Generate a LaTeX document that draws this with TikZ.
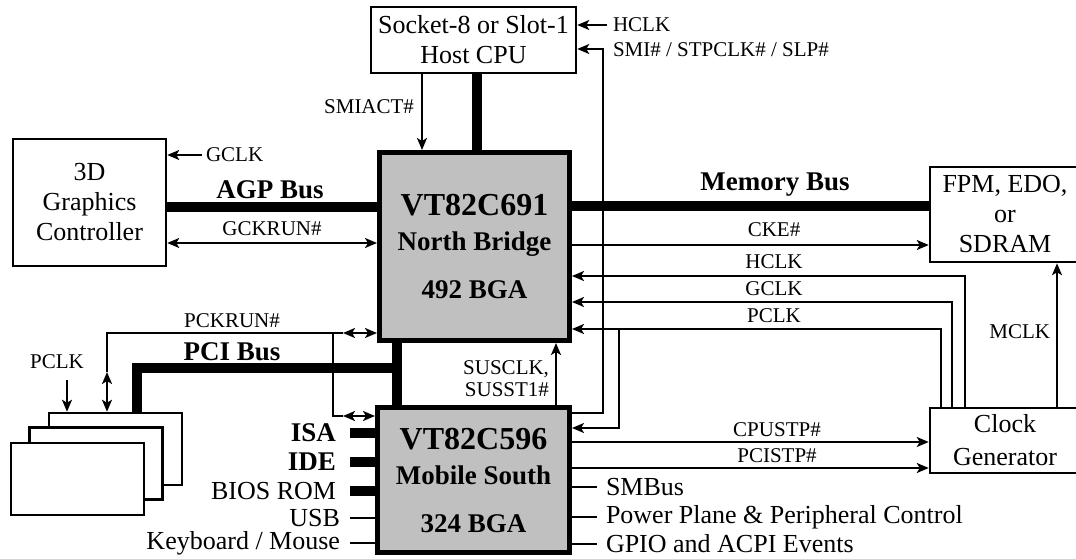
\documentclass[tikz,border=0pt]{standalone}
\usepackage{fontspec}
\setmainfont{Liberation Serif}
\usetikzlibrary{arrows.meta}
\definecolor{chipgray}{RGB}{192,192,192}
\tikzset{
  >={Stealth[length=12pt,width=10pt,inset=3pt]},
  box/.style={draw, line width=2.5pt, fill=white, inner sep=0pt, align=center, font=\fontsize{26}{30}\selectfont},
  chip/.style={draw, line width=5pt, fill=chipgray, inner sep=0pt, align=center, font=\fontsize{27}{35}\selectfont\bfseries},
  card/.style={draw, line width=2.5pt, fill=white, minimum width=133, minimum height=72},
  bus/.style={line width=10pt},
  lbl/.style={font=\fontsize{21}{22}\selectfont, inner sep=1pt},
  txt/.style={font=\fontsize{26}{30}\selectfont, inner sep=1pt},
  buslbl/.style={font=\fontsize{27}{30}\selectfont\bfseries, inner sep=1pt},
}
\begin{document}
\begin{tikzpicture}[x=1pt, y=-1pt, line width=2pt]
\useasboundingbox (0,0) rectangle (1076,559);
\clip (0,0) rectangle (1076,559);

% blocks
\node[box, minimum width=205, minimum height=66] (cpu) at (473.5,40) {Socket-8 or Slot-1\\Host CPU};
\node[box, minimum width=153, minimum height=127] (gfx) at (89.5,202.5) {3D\\Graphics\\Controller};
\node[box, minimum width=150, minimum height=95] (dram) at (1005,214.5) {FPM, EDO,\\or\\SDRAM};
\node[box, minimum width=150, minimum height=65, font=\fontsize{26}{33}\selectfont] (clk) at (1005,440.5) {Clock\\Generator};
\node[chip, minimum width=190, minimum height=188] (nb) at (474.5,246.5) {{\fontsize{32}{35}\selectfont VT82C691}\\North Bridge\\[13pt]492 BGA};
\node[chip, minimum width=192, minimum height=145] (sb) at (473.5,480) {{\fontsize{32}{35}\selectfont VT82C596}\\Mobile South\\[13pt]324 BGA};
\node[card] (pciA) at (115.5,449) {};
\node[card] (pciB) at (96,463.5) {};
\node[card] (pciC) at (77.5,479) {};

% free ends
\coordinate (hclkin) at (607,25);
\coordinate (smi) at (603,49);
\coordinate (gclkin) at (202,155);
\coordinate (pclkj) at (619,329);
\coordinate (pcij) at (397,368);
\coordinate (pclkin) at (67,380);
\coordinate (pkj) at (333,333);

% host side
\draw[bus] (cpu.south -| 477,0) -- (nb.north -| 477,0);
\draw[->] (cpu.south -| 422,0) -- (nb.north -| 422,0);
\node[lbl, anchor=east] at (416,107) {SMIACT\#};
\draw[->] (hclkin) -- (cpu.east |- hclkin);
\node[lbl, anchor=west] at (611,25) {HCLK};
\draw[->] (sb.east |- 0,413) -| (smi) -- (cpu.east |- smi);
\node[lbl, anchor=west] at (611,50) {SMI\# / STPCLK\# / SLP\#};

% AGP
\draw[->] (gclkin) -- (gfx.east |- gclkin);
\node[lbl, anchor=west] at (204,155) {GCLK};
\draw[bus] (gfx.east |- 0,207) -- (nb.west |- 0,207);
\node[buslbl] at (270,190) {AGP Bus};
\draw[<->] (gfx.east |- 0,243) -- (nb.west |- 0,243);
\node[lbl] at (272,229) {GCKRUN\#};

% memory and clocks
\draw[bus] (nb.east |- 0,206) -- (dram.west |- 0,206);
\node[buslbl] at (775,185) {Memory Bus};
\draw[->] (nb.east |- 0,245) -- (dram.west |- 0,245);
\node[lbl] at (774,230) {CKE\#};
\draw[->] (clk.north -| 965,0) |- (nb.east |- 0,276);
\node[lbl] at (774,262) {HCLK};
\draw[->] (clk.north -| 952,0) |- (nb.east |- 0,302);
\node[lbl] at (774,289) {GCLK};
\draw[->] (clk.north -| 941,0) |- (nb.east |- 0,329);
\node[lbl] at (774,316) {PCLK};
\draw[->] (pclkj) |- (sb.east |- 0,428);
\draw[->] (clk.north -| 1057,0) -- (dram.south -| 1057,0);
\node[lbl, anchor=east] at (1052,332) {MCLK};
\draw[->] (sb.east |- 0,442) -- (clk.west |- 0,442);
\node[lbl] at (777,430) {CPUSTP\#};
\draw[->] (sb.east |- 0,468) -- (clk.west |- 0,468);
\node[lbl] at (777,456) {PCISTP\#};
\draw[->] (sb.north -| 556,0) -- (nb.south -| 556,0);
\node[lbl, anchor=east, align=right] at (551,379) {SUSCLK,\\SUSST1\#};

% PCI
\draw[bus] (nb.south -| 397,0) -- (sb.north -| 397,0);
\draw[bus] (pcij) -| (pciA.north -| 137,0);
\node[buslbl] at (232,352) {PCI Bus};
\draw (107,372) -- (107,333) -- (343,333);
\draw[<->] (107,372) -- (pciA.north -| 107,0);
\draw[<->] (343,333) -- (nb.west |- 0,333);
\draw (pkj) -- (333,416) -- (343,416);
\draw[<->] (343,416) -- (sb.west |- 0,416);
\node[lbl] at (232,321) {PCKRUN\#};
\draw[->] (pclkin) -- (pciA.north -| pclkin);
\node[lbl] at (57,362) {PCLK};

% south bridge pins
\draw[bus] (sb.west |- 0,433) -- ++(-25,0) node[buslbl, anchor=east, xshift=-8pt] {ISA};
\draw[bus] (sb.west |- 0,462) -- ++(-25,0) node[buslbl, anchor=east, xshift=-8pt] {IDE};
\draw[bus] (sb.west |- 0,491) -- ++(-25,0) node[txt, anchor=east, xshift=-8pt] {BIOS ROM};
\draw (sb.west |- 0,518) -- ++(-25,0) node[txt, anchor=east, xshift=-8pt] {USB};
\draw (sb.west |- 0,543) -- ++(-25,0) node[txt, anchor=east, xshift=-8pt] {Keyboard / Mouse};
\draw (sb.east |- 0,487) -- ++(25,0) node[txt, anchor=west, xshift=7pt] {SMBus};
\draw (sb.east |- 0,517) -- ++(25,0) node[txt, anchor=west, xshift=7pt] {Power Plane \& Peripheral Control};
\draw (sb.east |- 0,544) -- ++(25,0) node[txt, anchor=west, xshift=7pt] {GPIO and ACPI Events};
\end{tikzpicture}
\end{document}
